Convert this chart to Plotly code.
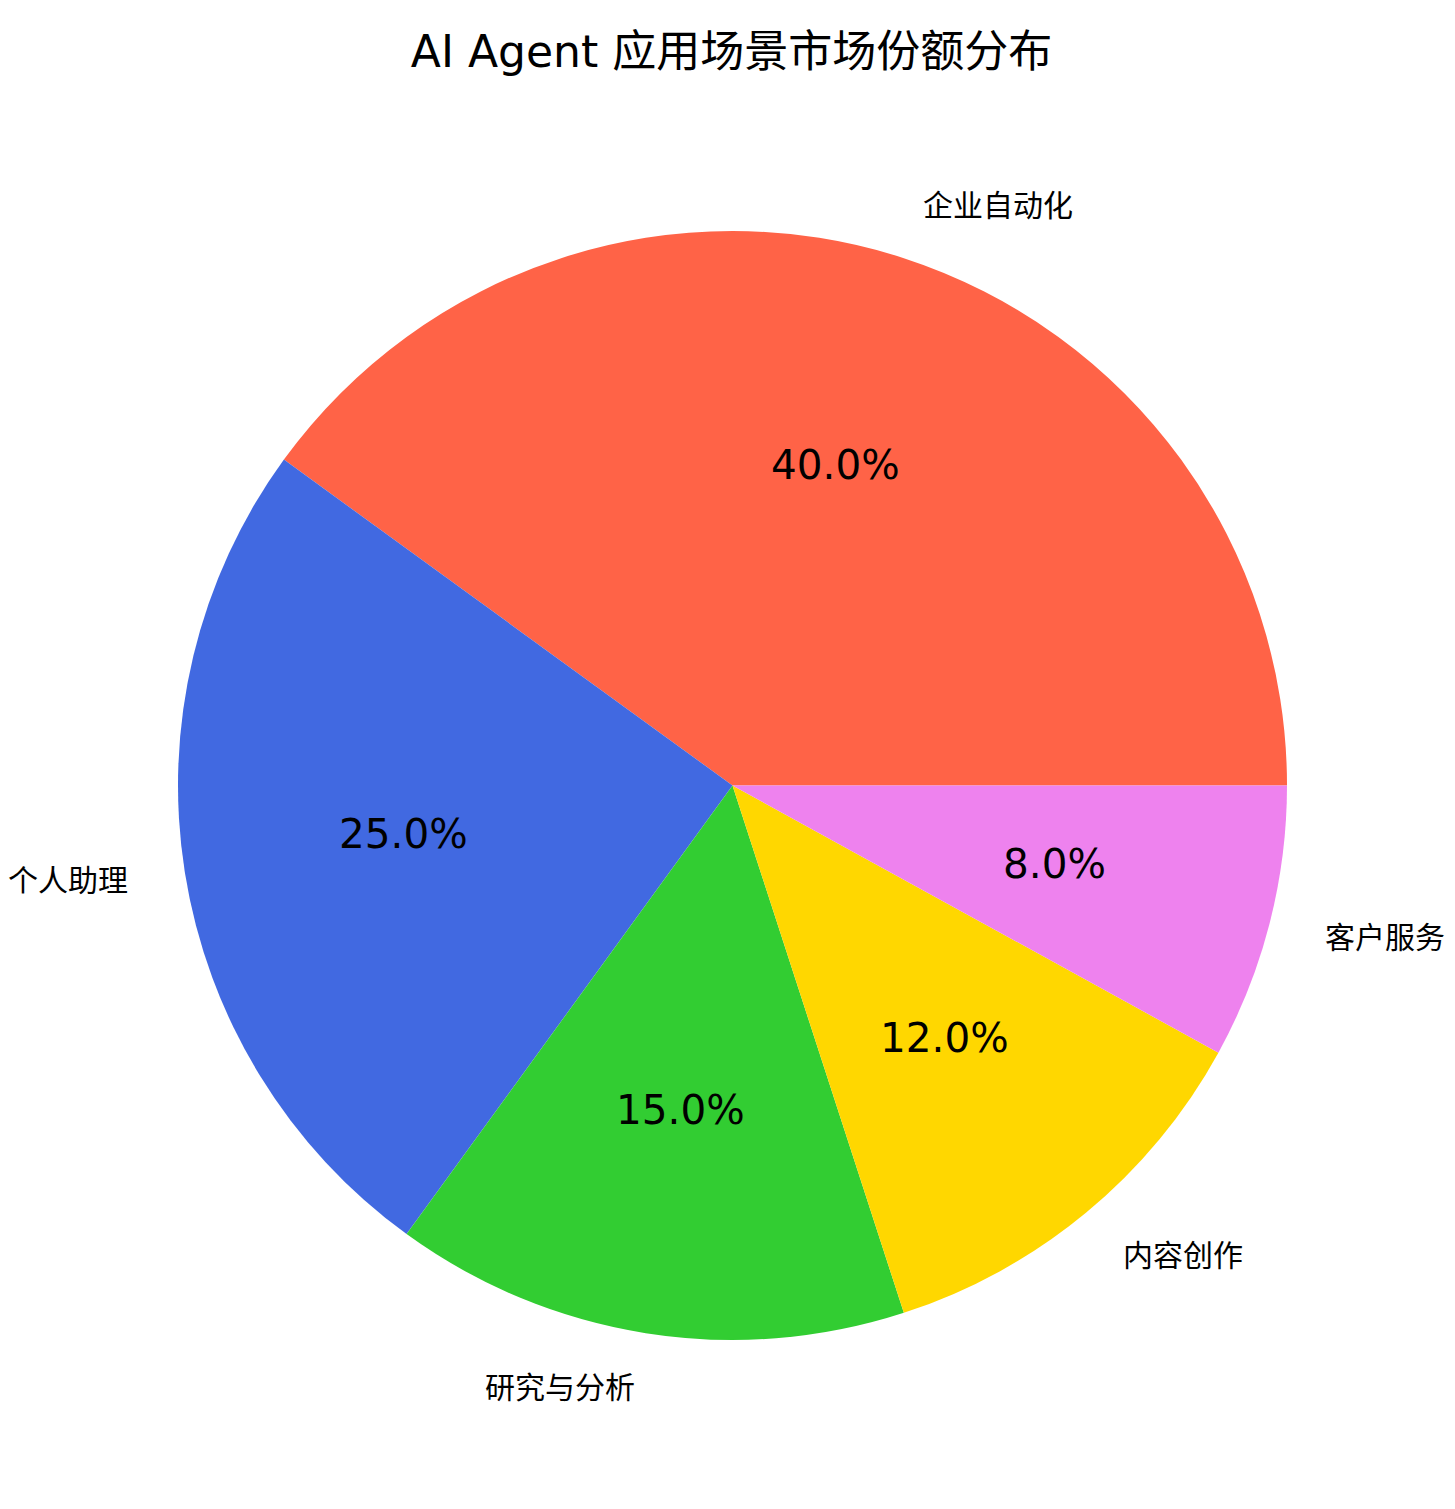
import math
import plotly.graph_objects as go

# ---- data ----
title_text = "AI Agent 应用场景市场份额分布"
labels = ["企业自动化", "个人助理", "研究与分析", "内容创作", "客户服务"]
values = [40, 25, 15, 12, 8]
colors = ["#FF6347", "#4169E1", "#32CD32", "#FFD700", "#EE82EE"]

# ---- layout geometry ----
W, H = 1455, 1509
PAGE_OFFSET = 8  # default body margin of the html page
cx_px, cy_px, r_px = 732.5 - PAGE_OFFSET, 785.5 - PAGE_OFFSET, 554.5
dom_x = [(cx_px - r_px) / W, (cx_px + r_px) / W]
dom_y = [1 - (cy_px + r_px) / H, 1 - (cy_px - r_px) / H]
FONT = "DejaVu Sans, Noto Sans CJK SC, sans-serif"

total = sum(values)
# plotly's counterclockwise pies end the first slice at the rotation angle;
# shift so the first slice starts at 3 o'clock (matplotlib startangle=0)
rotation = 90 - 360.0 * values[0] / total

fig = go.Figure(
    go.Pie(
        labels=labels,
        values=values,
        marker=dict(colors=colors, line=dict(width=0)),
        sort=False,
        direction="counterclockwise",
        rotation=rotation,
        textinfo="none",
        hoverinfo="label+percent",
        domain=dict(x=dom_x, y=dom_y),
        showlegend=False,
    )
)

# label & percentage annotations placed from the data (pct at 0.6r, label at 1.1r)
start = 0.0
annotations = []
for lab, v in zip(labels, values):
    span = 360.0 * v / total
    mid = math.radians(start + span / 2)
    c, s = math.cos(mid), math.sin(mid)
    px = cx_px + 0.6 * r_px * c
    py = cy_px - 0.6 * r_px * s
    annotations.append(dict(
        x=px / W, y=1 - py / H, xref="paper", yref="paper",
        text=f"{v / total * 100:.1f}%", showarrow=False,
        xanchor="center", yanchor="middle", yshift=4,
        font=dict(family=FONT, size=40.5, color="black"),
    ))
    lx = cx_px + 1.1 * r_px * c
    ly = cy_px - 1.1 * r_px * s
    annotations.append(dict(
        x=lx / W, y=1 - ly / H, xref="paper", yref="paper",
        text=lab, showarrow=False,
        xanchor="left" if c > 0 else "right", yanchor="middle",
        font=dict(family=FONT, size=30, color="black"),
    ))
    start += span

fig.update_layout(
    width=W, height=H,
    margin=dict(l=0, r=0, t=0, b=0),
    paper_bgcolor="white",
    plot_bgcolor="white",
    title=dict(
        text=title_text, x=(731.5 - PAGE_OFFSET) / W, xanchor="center",
        y=1 - (52 - PAGE_OFFSET) / H, yanchor="middle",
        font=dict(family=FONT, size=44, color="black"),
    ),
    annotations=annotations,
)

fig.write_html("out.html")
